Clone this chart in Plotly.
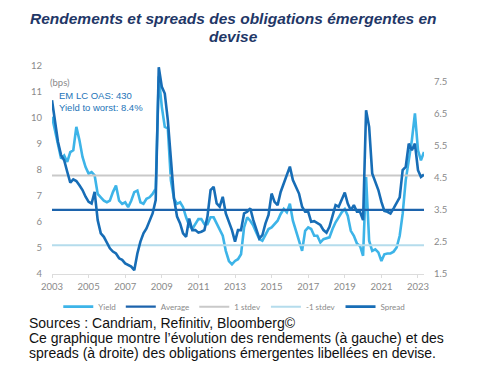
import plotly.graph_objects as go
import pandas as pd

# bimonthly observation dates (Jan 2003 .. May 2023)
dates = pd.date_range("2003-01-01", "2023-05-01", freq="2MS")

# Yield to worst (%), left axis
yield_pct = [
    10.05, 9.53, 9.02, 8.44, 8.56, 8.31,
    8.69, 8.76, 9.66, 9.15, 8.50, 8.11,
    7.86, 7.92, 7.79, 7.08, 6.95, 6.82,
    6.76, 6.82, 7.15, 7.40, 6.82, 6.70,
    6.76, 6.57, 6.82, 7.15, 7.21, 6.76,
    6.70, 6.89, 6.95, 7.08, 7.28, 11.6,
    10.43, 9.66, 9.60, 7.60, 6.90, 6.70,
    6.76, 6.57, 6.18, 5.86, 5.73, 5.92,
    6.11, 6.11, 5.92, 5.92, 6.18, 6.18,
    5.92, 5.66, 5.47, 4.89, 4.50, 4.37,
    4.50, 4.57, 4.76, 5.79, 6.18, 6.05,
    5.86, 5.60, 5.34, 5.28, 5.53, 5.73,
    5.79, 5.92, 6.05, 6.31, 6.50, 6.37,
    6.70, 6.05, 5.66, 5.21, 4.89, 5.66,
    5.79, 5.73, 5.47, 5.47, 5.21, 5.34,
    5.38, 5.41, 5.73, 5.99, 6.18, 6.37,
    6.50, 6.24, 5.66, 5.47, 5.17, 5.08,
    4.70, 7.73, 5.28, 4.89, 4.95, 4.83,
    4.50, 4.76, 4.79, 4.79, 4.86, 5.02,
    5.47, 6.31, 7.60, 8.37, 9.15, 10.18,
    8.76, 8.37, 8.69,
]

# Spread (%), right axis
spread_pct = [
    6.92, 6.19, 5.62, 5.21, 5.05, 4.69,
    4.35, 4.45, 4.40, 4.27, 4.12, 3.91,
    3.75, 3.70, 4.06, 3.18, 2.77, 2.66,
    2.46, 2.30, 2.20, 2.14, 1.99, 1.94,
    1.83, 1.78, 1.73, 1.62, 2.14, 2.51,
    2.77, 2.92, 3.18, 3.39, 3.81, 7.95,
    7.34, 7.13, 6.30, 5.00, 3.86, 3.29,
    3.08, 2.77, 2.66, 3.23, 2.87, 2.87,
    2.79, 2.82, 2.87, 3.29, 4.12, 4.22,
    3.70, 3.60, 3.91, 3.39, 3.13, 2.87,
    2.51, 2.87, 2.87, 3.39, 3.44, 3.55,
    3.18, 2.92, 2.61, 2.71, 3.08, 3.34,
    4.01, 3.75, 3.65, 4.06, 4.32, 4.58,
    4.85, 4.43, 4.22, 4.01, 3.60, 3.44,
    3.44, 3.13, 3.15, 3.08, 3.03, 2.87,
    2.79, 2.97, 3.34, 3.65, 3.60, 3.81,
    4.04, 3.70, 3.49, 3.65, 3.44, 3.44,
    3.18, 6.61, 6.09, 4.64, 4.38, 4.12,
    3.75, 3.47, 3.44, 3.39, 3.55, 3.70,
    3.89, 4.74, 4.84, 5.57, 5.36, 5.57,
    4.74, 4.53, 4.60,
]

spread_average = 3.5
spread_plus_1_stdev = 4.57
spread_minus_1_stdev = 2.40

left_ticks = [4, 5, 6, 7, 8, 9, 10, 11, 12]
right_ticks = [1.5, 2.5, 3.5, 4.5, 5.5, 6.5, 7.5]
year_ticks = ["2003", "2005", "2007", "2009", "2011", "2013", "2015", "2017", "2019", "2021", "2023"]

C_YIELD = "#3DB4E8"
C_AVG = "#1C63AC"
C_P1 = "#C9C9C9"
C_M1 = "#B5DCEC"
C_SPREAD = "#176DB6"
TICK = "#8A8A8A"

x_span = [dates[0], dates[-1]]

fig = go.Figure()
fig.add_trace(go.Scatter(x=dates, y=yield_pct, name="Yield", mode="lines",
                         line=dict(color=C_YIELD, width=2.6), yaxis="y"))
fig.add_trace(go.Scatter(x=x_span, y=[spread_average] * 2, name="Average", mode="lines",
                         line=dict(color=C_AVG, width=2.4), yaxis="y2"))
fig.add_trace(go.Scatter(x=x_span, y=[spread_plus_1_stdev] * 2, name="1 stdev", mode="lines",
                         line=dict(color=C_P1, width=2), yaxis="y2"))
fig.add_trace(go.Scatter(x=x_span, y=[spread_minus_1_stdev] * 2, name="-1 stdev", mode="lines",
                         line=dict(color=C_M1, width=2), yaxis="y2"))
fig.add_trace(go.Scatter(x=dates, y=spread_pct, name="Spread", mode="lines",
                         line=dict(color=C_SPREAD, width=2.6), yaxis="y2"))

tickfont = dict(family="Lato, Open Sans, sans-serif", size=9.5, color=TICK)

fig.update_layout(
    width=490, height=377,
    margin=dict(l=52, r=66, t=66, b=103, pad=0),
    paper_bgcolor="white", plot_bgcolor="white",
    showlegend=True,
    legend=dict(orientation="h", x=0.49, xanchor="center", y=-0.157, yanchor="middle",
                font=dict(family="Lato, sans-serif", size=8, color="#8A8A8A"),
                itemwidth=30, bgcolor="rgba(0,0,0,0)", tracegroupgap=0),
    xaxis=dict(
        type="date", range=[dates[0], dates[-1]],
        tickvals=[pd.Timestamp(y + "-01-01") for y in year_ticks], ticktext=year_ticks,
        showgrid=False, zeroline=False, showline=True, linecolor="#DCDCDC", linewidth=1,
        ticks="outside", ticklen=3, tickcolor="#DCDCDC", tickfont=tickfont,
        ticklabelstandoff=1,
    ),
    yaxis=dict(
        range=[4, 12], tickvals=left_ticks, showgrid=False, zeroline=False, showline=False,
        ticks="", tickfont=tickfont, ticklabelstandoff=9,
    ),
    yaxis2=dict(
        range=[1.5, 7.99], tickvals=right_ticks, ticktext=[f"{v:.1f}" for v in right_ticks],
        overlaying="y", side="right", showgrid=False, zeroline=False, showline=False,
        ticks="", tickfont=tickfont, ticklabelstandoff=9,
    ),
)

title_font = dict(family="Liberation Sans, Arial, sans-serif", size=15.5, color="#1F3767")
fig.add_annotation(text="<b><i>Rendements et spreads des obligations émergentes en</i></b>",
                   xref="paper", yref="paper", x=0.4887, y=1.228, xanchor="center", yanchor="middle",
                   showarrow=False, font=title_font)
fig.add_annotation(text="<b><i>devise</i></b>",
                   xref="paper", yref="paper", x=0.4887, y=1.140, xanchor="center", yanchor="middle",
                   showarrow=False, font=title_font)

fig.add_annotation(text="(bps)", xref="paper", yref="paper", x=-0.0108, y=0.923,
                   xanchor="left", yanchor="middle", showarrow=False,
                   font=dict(family="Lato, sans-serif", size=9.5, color=TICK))
info_font = dict(family="Liberation Sans, Arial, sans-serif", size=9.5, color="#2474B8")
fig.add_annotation(text="EM LC OAS: 430", xref="paper", yref="paper", x=0.0142, y=0.856,
                   xanchor="left", yanchor="middle", showarrow=False, font=info_font)
fig.add_annotation(text="Yield to worst: 8.4%", xref="paper", yref="paper", x=0.0142, y=0.800,
                   xanchor="left", yanchor="middle", showarrow=False, font=info_font)

cap_font = dict(family="Liberation Sans, Arial, sans-serif", size=14, color="#111111")
captions = [
    "Sources : Candriam, Refinitiv, Bloomberg©",
    "Ce graphique montre l’évolution des rendements (à gauche) et des",
    "spreads (à droite) des obligations émergentes libellées en devise.",
]
for txt, yy in zip(captions, [-0.234, -0.309, -0.381]):
    fig.add_annotation(text=txt, xref="paper", yref="paper", x=-0.068, y=yy,
                       xanchor="left", yanchor="middle", showarrow=False, font=cap_font)

fig.write_html("out.html", config={"displayModeBar": False},
               post_script="document.body.style.margin='0';")
